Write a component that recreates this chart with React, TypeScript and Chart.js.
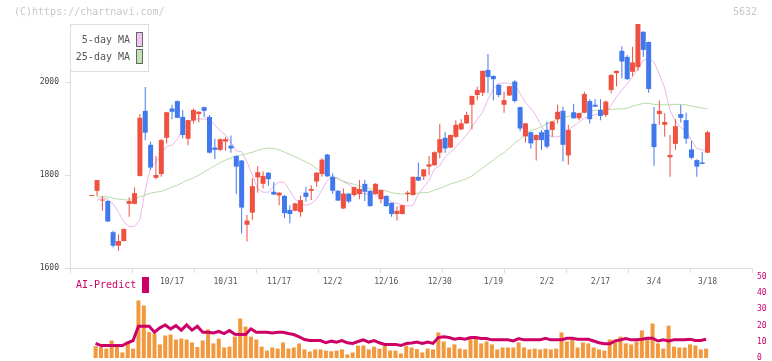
import React, { useEffect, useRef } from 'react';
import { Chart, registerables } from 'chart.js';

Chart.register(...registerables);

// ---------- data ----------
const opens = [1755,1766,1745,1744,1677,1648,1658,1738,1738,1798,1938,1865,1794,1802,1880,1943,1959,1925,1878,1917,1931,1946,1925,1859,1854,1872,1863,1841,1831,1693,1719,1795,1781,1805,1764,1756,1755,1725,1723,1720,1762,1766,1786,1802,1844,1796,1766,1728,1760,1757,1759,1781,1766,1759,1748,1755,1740,1716,1716,1759,1757,1796,1797,1818,1821,1848,1880,1859,1882,1898,1911,1951,1972,1977,2026,2013,1994,1951,1971,2001,1946,1883,1892,1875,1892,1897,1897,1920,1938,1842,1935,1922,1934,1959,1951,1940,1929,1983,2019,2067,2054,2022,2032,2108,2086,1910,1931,1908,1838,1867,1931,1918,1855,1832,1827,1848];
const highs = [1757,1789,1755,1746,1680,1672,1685,1752,1773,1931,1989,1872,1841,1878,1936,1951,1960,1940,1919,1943,1937,1947,1929,1878,1879,1882,1885,1842,1832,1714,1793,1819,1808,1806,1785,1763,1757,1735,1740,1756,1775,1778,1806,1836,1845,1804,1767,1771,1761,1775,1789,1789,1767,1782,1769,1756,1741,1733,1736,1766,1797,1827,1813,1841,1851,1910,1893,1887,1918,1920,1936,1971,1990,2025,2060,2014,1995,1979,1992,2004,1947,1912,1893,1887,1897,1915,1916,1951,1947,1908,1953,1934,1979,1963,1963,1963,1960,2017,2025,2077,2058,2076,2126,2109,2087,1946,1960,1933,1886,1920,1951,1934,1873,1834,1850,1895];
const lows = [1755,1755,1723,1699,1644,1637,1657,1710,1737,1797,1875,1811,1791,1796,1868,1920,1922,1879,1864,1911,1913,1924,1846,1834,1852,1852,1848,1759,1674,1657,1703,1762,1771,1777,1757,1735,1707,1696,1722,1710,1743,1746,1775,1796,1796,1759,1744,1727,1740,1753,1748,1744,1732,1758,1739,1732,1710,1702,1715,1743,1756,1787,1789,1800,1820,1836,1848,1858,1879,1897,1910,1898,1961,1970,1976,1961,1967,1934,1970,1956,1894,1870,1857,1831,1854,1857,1882,1911,1829,1822,1921,1918,1933,1911,1946,1918,1925,1976,1991,2008,2005,2013,2024,2054,1977,1820,1908,1882,1796,1854,1913,1867,1834,1796,1823,1847];
const closes = [1757,1789,1747,1700,1648,1658,1684,1744,1761,1923,1891,1816,1800,1875,1935,1936,1923,1886,1918,1940,1936,1938,1848,1854,1877,1877,1857,1818,1730,1702,1776,1806,1798,1791,1758,1762,1718,1716,1739,1746,1753,1770,1805,1833,1797,1766,1745,1760,1743,1774,1770,1764,1733,1781,1768,1733,1716,1723,1735,1762,1796,1788,1812,1823,1849,1877,1857,1886,1908,1911,1929,1970,1983,2024,2011,2006,1972,1961,1991,1959,1900,1911,1868,1886,1875,1861,1915,1936,1865,1897,1922,1933,1974,1920,1947,1927,1958,2015,2024,2044,2006,2042,2125,2069,1985,1860,1938,1914,1843,1905,1923,1878,1837,1818,1824,1892];

const ma5 = [null,1746,1750,1748,1738,1720,1699,1689,1689,1703,1768,1817,1828,1845,1862,1864,1877,1897,1912,1919,1921,1920,1920,1907,1895,1886,1871,1852,1850,1828,1800,1770,1763,1763,1776,1785,1784,1766,1747,1738,1735,1738,1748,1768,1789,1796,1794,1785,1780,1772,1762,1760,1758,1757,1753,1752,1742,1739,1735,1733,1735,1759,1774,1789,1813,1820,1839,1849,1860,1873,1886,1903,1920,1935,1963,1985,1997,1998,1997,1993,1976,1955,1944,1927,1905,1888,1882,1882,1886,1897,1905,1914,1922,1926,1930,1932,1934,1950,1968,1983,1996,2011,2028,2047,2050,2043,2017,1987,1938,1916,1902,1895,1875,1857,1854,1852];
const ma25 = [null,1753,1753,1753,1750,1748,1747,1746,1748,1753,1757,1761,1763,1765,1769,1774,1778,1784,1789,1794,1800,1807,1813,1820,1827,1832,1837,1841,1843,1846,1849,1853,1856,1858,1857,1854,1849,1844,1839,1834,1828,1822,1814,1807,1801,1796,1791,1787,1783,1780,1776,1773,1770,1768,1767,1766,1762,1760,1759,1759,1760,1761,1762,1763,1768,1771,1776,1781,1784,1788,1792,1798,1807,1815,1824,1832,1841,1848,1858,1869,1877,1888,1895,1899,1904,1910,1915,1920,1924,1926,1929,1932,1936,1938,1939,1940,1940,1941,1942,1942,1944,1948,1951,1954,1954,1952,1951,1951,1951,1952,1952,1951,1948,1946,1944,1943];

const dateLabels = ['10/17','10/31','11/17','12/2','12/16','12/30','1/19','2/2','2/17','3/4','3/18'];
const dateIndex = [15,25,35,45,55,65,75,85,95,105,115];
const priceTicks = [1600,1800,2000];

const volume = [7.3,6.8,5.8,10.8,6.8,3.4,10.2,5.8,35.5,32.4,16,15.1,8.4,13.9,14.5,11.4,12,11.4,9.6,6.8,10.8,17.6,9,12,6.5,7,13.2,24.4,19.4,13.2,11.4,7,4.6,6.5,5.8,9.6,5.8,6.5,9,5.3,4,5.3,5.3,4.6,4.2,4.6,5.3,2.2,3.4,7.7,7.7,5.3,7,5.8,7.7,4.6,4.6,2.8,7.7,6.5,5.5,3.4,5.8,5.3,15.8,10.2,6.5,8.4,5.8,5.3,12,12,9,10.2,8.4,5.3,6.5,6.5,6.5,9.6,6.5,5.3,5.8,5.3,5.8,5.3,5.8,15.8,10.2,12.6,6.5,9.6,9,6.5,5.3,4.6,11.4,9.6,13.2,9,8.4,10.2,17,12.6,21.3,9,5.8,20,7,6.5,6.5,8.4,7.7,5.3,5.8];
const aiPredict = [9,7.7,7.7,7.7,7.7,7.7,9.4,10.8,19.6,19.6,19.6,15.9,18.6,20.4,18,20,17.2,20.4,17.2,19.6,15.9,15.9,15.5,16.4,15.1,17,14.7,14.5,14.5,18,15.9,15.9,15.9,15.5,15.9,15.9,15.1,14.5,13.1,11.4,10.8,10.8,10.8,9.4,10.4,9.8,10.8,9.4,9,10.2,11.2,9.8,10.8,9.4,8.4,8.4,8.4,7.7,9,9.2,9.8,9,9.8,9,12.6,13.1,12.6,11.6,12.2,11.6,12.6,12.6,12,12,11.2,11.2,11.2,11.2,10.5,12,11.2,11.2,11.2,11.2,12.2,11.2,11.2,11.2,12.2,12.2,11.6,11.6,11.6,10.5,9.4,8.8,8.8,10.5,11.2,12,11.2,11.2,11.6,12.2,12.2,10.5,11.2,10.5,11.2,11.2,11.2,11.6,10.8,10.8,11.6];
const volTicks = [0,10,20,30,40,50];

const WATERMARK = '(C)https://chartnavi.com/';
const CODE = '5632';
const AI_LABEL = 'AI-Predict';

// ---------- style ----------
const FONT = '"DejaVu Sans Mono", monospace';
const UP = '#f0503f';
const DOWN = '#4178ee';
const X_MIN = -4.05;
const X_MAX = 123.3;
const BAR_SHIFT = 0.27;
const PRICE_MIN = 1600;
const PRICE_MAX = 1600 + 200 * (268 - 24) / 93;

const decoPlugin = {
  id: 'deco',
  afterDraw(chart: any) {
    const ctx = chart.ctx;
    ctx.save();
    ctx.font = `10px ${FONT}`;
    ctx.textBaseline = 'middle';
    ctx.fillStyle = '#c8c8c8';
    ctx.textAlign = 'left';
    ctx.fillText(WATERMARK, 14, 12.5);
    ctx.textAlign = 'right';
    ctx.fillText(CODE, 757, 12.5);
    // legend box
    ctx.fillStyle = '#ffffff';
    ctx.fillRect(70.5, 24.5, 78, 47);
    ctx.strokeStyle = '#dddddd';
    ctx.lineWidth = 1;
    ctx.strokeRect(70.5, 24.5, 78, 47);
    const items = chart.data.datasets.filter((d: any) => d.showInLegend);
    items.forEach((d: any, i: number) => {
      const y = 40 + i * 17;
      ctx.fillStyle = '#555555';
      ctx.textAlign = 'right';
      ctx.fillText(d.label, 130, y);
      ctx.fillStyle = d.backgroundColor;
      ctx.fillRect(136, y - 8, 7, 15);
      ctx.strokeStyle = '#666666';
      ctx.strokeRect(136.5, y - 7.5, 6, 14);
    });
    ctx.restore();
  },
};

const aiPlugin = {
  id: 'aiLabel',
  afterDraw(chart: any) {
    const ctx = chart.ctx;
    ctx.save();
    ctx.font = `10px ${FONT}`;
    ctx.textBaseline = 'middle';
    ctx.textAlign = 'left';
    ctx.fillStyle = '#cc0066';
    ctx.fillText(AI_LABEL, 76, 15.5);
    ctx.fillRect(142, 7, 7, 16);
    ctx.restore();
  },
};

export default function App() {
  const mainRef = useRef<HTMLCanvasElement>(null);
  const subRef = useRef<HTMLCanvasElement>(null);

  useEffect(() => {
    document.body.style.margin = '0';
    document.body.style.overflow = 'hidden';
    const idx = opens.map((_, i) => i);
    const colors = idx.map((i) => (closes[i] >= opens[i] ? UP : DOWN));

    const main = new Chart(mainRef.current as HTMLCanvasElement, {
      type: 'bar',
      data: {
        datasets: [
          {
            type: 'line', label: '5-day MA', showInLegend: true,
            data: ma5.map((v, i) => ({ x: i, y: v })),
            borderColor: '#ebb6eb', backgroundColor: '#f2c4f2', borderWidth: 1,
            pointRadius: 0, order: 5, xAxisID: 'x', yAxisID: 'y',
          } as any,
          {
            type: 'line', label: '25-day MA', showInLegend: true,
            data: ma25.map((v, i) => ({ x: i, y: v })),
            borderColor: '#b6dca8', backgroundColor: '#c2e2b4', borderWidth: 1,
            pointRadius: 0, order: 4, xAxisID: 'x', yAxisID: 'y',
          } as any,
          {
            type: 'bar', label: 'range',
            data: idx.map((i) => ({ x: i, y: [lows[i], highs[i]] })),
            backgroundColor: colors, barThickness: 1, grouped: false, inflateAmount: 0,
            order: 2, xAxisID: 'x', yAxisID: 'y',
          } as any,
          {
            type: 'bar', label: 'body',
            data: idx.map((i) => ({ x: i, y: [opens[i], closes[i]] })),
            backgroundColor: colors, barThickness: 5, minBarLength: 1, grouped: false, inflateAmount: 0,
            order: 1, xAxisID: 'x', yAxisID: 'y',
          } as any,
        ],
      },
      options: {
        responsive: false,
        animation: false,
        devicePixelRatio: 1,
        events: [],
        layout: { padding: { left: 0, right: 20, top: 24, bottom: 0 } },
        plugins: { legend: { display: false }, tooltip: { enabled: false } },
        scales: {
          x: {
            type: 'linear', min: X_MIN, max: X_MAX, offset: false, position: 'bottom', weight: 0,
            afterBuildTicks: (s: any) => {
              s.ticks = Array.from({ length: 12 }, (_, i) => ({ value: X_MIN + (i * (X_MAX - X_MIN)) / 11 }));
            },
            afterFit: (s: any) => { s.height = 5; },
            ticks: { display: false },
            grid: { drawOnChartArea: false, drawTicks: true, tickLength: 5, color: '#dddddd', offset: false },
            border: { display: true, color: '#dddddd' },
          },
          xd: {
            type: 'linear', min: X_MIN, max: X_MAX, offset: false, position: 'bottom', weight: 1,
            afterBuildTicks: (s: any) => { s.ticks = dateIndex.map((v) => ({ value: v })); },
            afterFit: (s: any) => { s.height = 18; },
            ticks: {
              callback: (_v: any, i: number) => dateLabels[i],
              autoSkip: false, maxRotation: 0, minRotation: 0,
              font: { family: FONT, size: 8 }, color: '#555555', padding: 4,
            },
            grid: { display: false, drawTicks: false },
            border: { display: false },
          },
          y: {
            type: 'linear', min: PRICE_MIN, max: PRICE_MAX, position: 'left', beginAtZero: false,
            afterBuildTicks: (s: any) => { s.ticks = priceTicks.map((v) => ({ value: v })); },
            afterFit: (s: any) => { s.width = 70; },
            ticks: {
              font: { family: FONT, size: 8 }, color: '#444444', padding: 6,
              callback: (v: any) => String(v),
            },
            grid: { drawOnChartArea: false, drawTicks: true, tickLength: 5, color: '#dddddd' },
            border: { display: true, color: '#dddddd' },
          },
        },
      } as any,
      plugins: [decoPlugin],
    });

    const sub = new Chart(subRef.current as HTMLCanvasElement, {
      type: 'bar',
      data: {
        datasets: [
          {
            type: 'line', label: AI_LABEL,
            data: aiPredict.map((v, i) => ({ x: i + 1, y: v })),
            borderColor: '#cc0066', borderWidth: 3, pointRadius: 0, order: 1,
          } as any,
          {
            type: 'bar', label: 'volume',
            data: volume.map((v, i) => ({ x: i + 1, y: v })),
            backgroundColor: '#f2993e', barThickness: 4, inflateAmount: 0, order: 2,
          } as any,
        ],
      },
      options: {
        responsive: false,
        animation: false,
        devicePixelRatio: 1,
        events: [],
        layout: { padding: { left: 70, right: 0, top: 7, bottom: 3 } },
        plugins: { legend: { display: false }, tooltip: { enabled: false } },
        scales: {
          x: { type: 'linear', min: X_MIN + BAR_SHIFT, max: X_MAX + BAR_SHIFT, offset: false, display: false },
          y: {
            type: 'linear', min: 0, max: 50, position: 'right',
            afterBuildTicks: (s: any) => { s.ticks = volTicks.map((v) => ({ value: v })); },
            afterFit: (s: any) => { s.width = 20; s.paddingTop = 0; s.paddingBottom = 0; },
            ticks: { font: { family: FONT, size: 8 }, color: '#cc0066', padding: 5 },
            grid: { display: false, drawTicks: false },
            border: { display: false },
          },
        },
      } as any,
      plugins: [aiPlugin],
    });

    return () => {
      main.destroy();
      sub.destroy();
    };
  }, []);

  return (
    <div style={{ position: 'relative', width: 772, height: 361, overflow: 'hidden', background: '#fff' }}>
      <canvas ref={mainRef} width={772} height={291} style={{ position: 'absolute', left: 0, top: 0 }} />
      <canvas ref={subRef} width={772} height={91} style={{ position: 'absolute', left: 0, top: 270 }} />
    </div>
  );
}
